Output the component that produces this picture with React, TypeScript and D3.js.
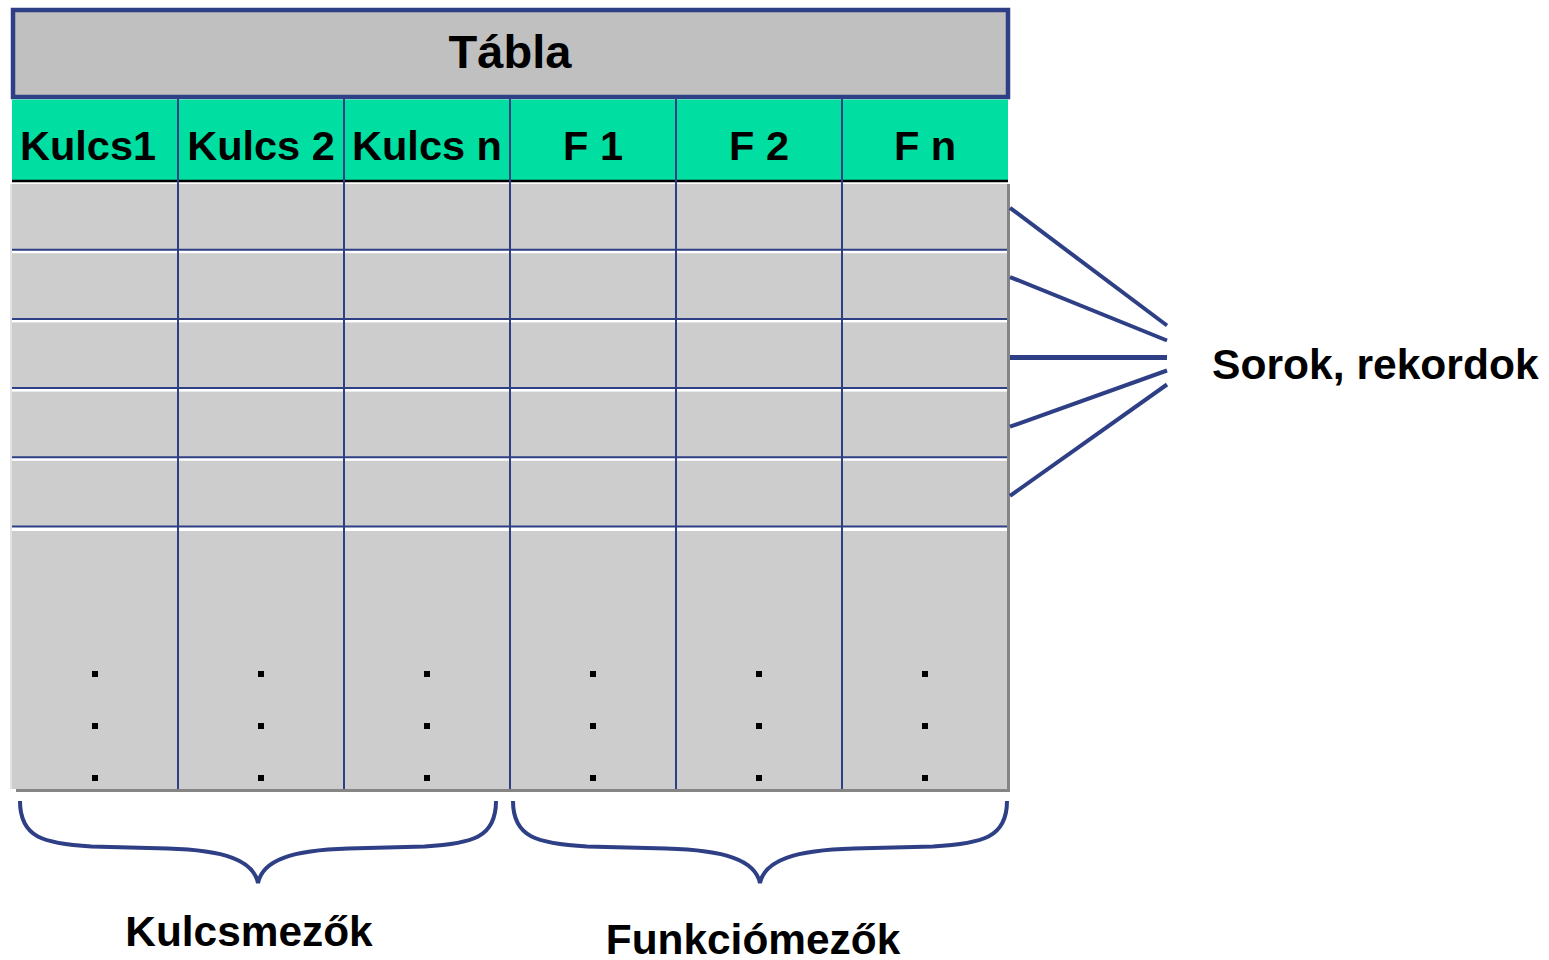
import React from "react";
import * as d3 from "d3";

const title = "Tábla";
const columns = ["Kulcs1", "Kulcs 2", "Kulcs n", "F 1", "F 2", "F n"];
const recordRows = [1, 2, 3, 4, 5];
const dotRows = [0, 1, 2];
const groups = [
  { label: "Kulcsmezők", from: 0, to: 2 },
  { label: "Funkciómezők", from: 3, to: 5 },
];
const sideLabel = "Sorok, rekordok";
// fan lines: where they leave each row (fraction of row height) and spread at the convergence point
const fanStartFrac = [0.36, 0.36, 0.53, 0.53, 0.53];
const fanEndSpread = [-32, -17, 0, 13, 27];

const W = 1549;
const H = 960;
const BLUE = "#2E3F86";
const GREEN = "#00DFA1";
const GRAY = "#CDCDCD";
const FONT = "'Liberation Sans', Arial, Helvetica, sans-serif";

export default function App() {
  const left = 12;
  const right = 1008;
  const x = d3.scaleBand<string>().domain(columns).range([left, right]);
  const bw = x.bandwidth();
  const rowsTop = 184;
  const pitch = 69.2;
  const y = d3.scaleLinear().domain([0, recordRows.length]).range([rowsTop, rowsTop + pitch * recordRows.length]);
  const bottomTop = y(recordRows.length) + 1;
  const bottom = 789;
  const dotY = d3.scaleLinear().domain([0, 2]).range([674, 778]);

  const convX = 1167;
  const convY = 357.5;

  const brace = (x0: number, x1: number, yT: number, yTip: number) => {
    const h = (x1 - x0) / 2;
    const depth = yTip - yT;
    const p = d3.path();
    p.moveTo(x0, yT);
    p.bezierCurveTo(x0, yT + 0.45 * depth, x0 + 0.1 * h, yT + 0.52 * depth, x0 + 0.3 * h, yT + 0.555 * depth);
    p.lineTo(x0 + 0.62 * h, yT + 0.58 * depth);
    p.bezierCurveTo(x0 + 0.86 * h, yT + 0.6 * depth, x0 + 0.98 * h, yT + 0.72 * depth, x0 + h, yT + depth);
    p.bezierCurveTo(x0 + 1.02 * h, yT + 0.72 * depth, x0 + 1.14 * h, yT + 0.6 * depth, x0 + 1.38 * h, yT + 0.58 * depth);
    p.lineTo(x0 + 1.7 * h, yT + 0.555 * depth);
    p.bezierCurveTo(x0 + 1.9 * h, yT + 0.52 * depth, x1, yT + 0.45 * depth, x1, yT);
    return p.toString();
  };

  return (
    <div style={{ position: "absolute", left: 0, top: 0 }}>
      <svg width={W} height={H} viewBox={`0 0 ${W} ${H}`} style={{ display: "block", background: "#fff" }}>
        {/* title box */}
        <rect x={13} y={10} width={995} height={87} fill="#C0C0C0" stroke={BLUE} strokeWidth={4.5} />
        <text x={(left + right) / 2} y={68} textAnchor="middle" fontFamily={FONT} fontWeight="bold" fontSize={47} fill="#000">
          {title}
        </text>

        {/* header row */}
        <rect x={left} y={99.5} width={right - left} height={81} fill={GREEN} />
        <line x1={left} x2={right} y1={181} y2={181} stroke="#000" strokeWidth={2.5} />
        {columns.map((c, i) => (
          <text
            key={c}
            x={i === 0 ? x(c)! + 8 : x(c)! + bw / 2}
            y={160}
            textAnchor={i === 0 ? "start" : "middle"}
            fontFamily={FONT}
            fontWeight="bold"
            fontSize={41.5}
            fill="#000"
          >
            {c}
          </text>
        ))}

        {/* record rows */}
        {recordRows.map((r, i) => (
          <g key={r}>
            <rect x={left} y={y(i)} width={right - left} height={pitch - 3} fill={GRAY} />
            <line x1={left} x2={right} y1={y(i) + pitch - 3.5} y2={y(i) + pitch - 3.5} stroke={BLUE} strokeWidth={2} />
          </g>
        ))}

        {/* bottom continuation area */}
        <rect x={left} y={bottomTop} width={right - left} height={bottom - bottomTop} fill={GRAY} />
        <line x1={left - 1} x2={left - 1} y1={rowsTop} y2={bottom} stroke="#E2E2E2" strokeWidth={2} />
        <line x1={right + 0.5} x2={right + 0.5} y1={rowsTop} y2={bottom + 3} stroke="#858585" strokeWidth={3} />
        <line x1={left + 4} x2={right + 2} y1={bottom + 1.5} y2={bottom + 1.5} stroke="#858585" strokeWidth={3} />

        {/* column separators */}
        {columns.slice(1).map((c) => (
          <line key={c} x1={x(c)!} x2={x(c)!} y1={99} y2={bottom} stroke={BLUE} strokeWidth={2} />
        ))}

        {/* continuation dots */}
        {columns.map((c) =>
          dotRows.map((d) => (
            <rect key={c + d} x={x(c)! + bw / 2 - 3} y={dotY(d) - 3} width={6} height={6} fill="#000" />
          ))
        )}

        {/* fan lines to the side label */}
        {recordRows.map((r, i) => {
          const sy = y(i) + fanStartFrac[i] * (pitch - 3);
          const ey = convY + fanEndSpread[i];
          return (
            <line key={r} x1={right + 2} y1={fanEndSpread[i] === 0 ? ey : sy} x2={convX} y2={ey} stroke={BLUE} strokeWidth={fanEndSpread[i] === 0 ? 5 : 4} />
          );
        })}
        <text x={1212} y={379} fontFamily={FONT} fontWeight="bold" fontSize={42.6} fill="#000">
          {sideLabel}
        </text>

        {/* braces and group labels */}
        {groups.map((g, gi) => {
          const x0 = x(columns[g.from])! + (gi === 0 ? 8 : 3);
          const x1 = x(columns[g.to])! + bw - (gi === 0 ? 14 : 1);
          const cx = (x0 + x1) / 2;
          return (
            <g key={g.label}>
              <path d={brace(x0, x1, 801, 883)} fill="none" stroke={BLUE} strokeWidth={4} />
              <text x={cx - (gi === 0 ? 9 : 7)} y={gi === 0 ? 946 : 954} textAnchor="middle" fontFamily={FONT} fontWeight="bold" fontSize={42.4} fill="#000">
                {g.label}
              </text>
            </g>
          );
        })}
      </svg>
    </div>
  );
}
